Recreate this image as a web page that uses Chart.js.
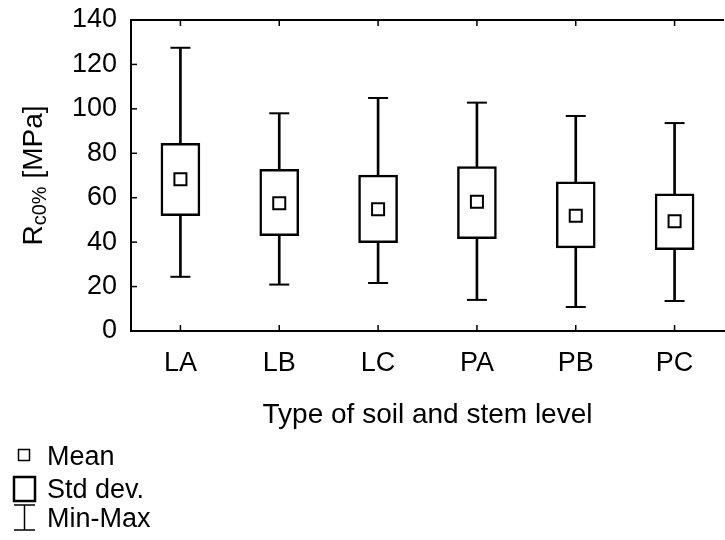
<!DOCTYPE html>
<html>
<head>
<meta charset="utf-8">
<script src="https://cdn.jsdelivr.net/npm/chart.js@4/dist/chart.umd.min.js"></script>
<style>
  html, body { margin: 0; padding: 0; background: #fff; overflow: hidden; }
  #wrap { width: 725px; height: 540px; overflow: hidden; position: relative; }
  canvas { display: block; }
</style>
</head>
<body>
<div id="wrap"><canvas id="c" width="736" height="540"></canvas></div>
<script>
// ---- data ----
const categories = ['LA', 'LB', 'LC', 'PA', 'PB', 'PC'];
const meanValues = [68.3, 57.5, 54.8, 58.2, 51.9, 49.4];
const sdLow      = [51.9, 42.9, 39.8, 41.6, 37.4, 36.6];
const sdHigh     = [84.5, 72.8, 70.2, 74.0, 67.2, 61.8];
const minValues  = [24.4, 20.9, 21.6, 14.0, 10.8, 13.5];
const maxValues  = [127.5, 98.0, 104.9, 102.8, 96.8, 93.6];
const yTicks     = [0, 20, 40, 60, 80, 100, 120, 140];
const xTitle = 'Type of soil and stem level';
const yTitleMain = 'R', yTitleSub = 'c0%', yTitleRest = ' [MPa]';
const legendLabels = ['Mean', 'Std dev.', 'Min-Max'];

const FONT = '"Liberation Sans", Arial, sans-serif';
const BLACK = '#000';

const decorPlugin = {
  id: 'decor',
  afterDraw(chart) {
    const ctx = chart.ctx;
    const ca = chart.chartArea;
    const xs = chart.scales.x, ys = chart.scales.y;
    ctx.save();
    ctx.strokeStyle = BLACK;
    ctx.lineWidth = 2;
    // top frame line
    ctx.beginPath();
    ctx.moveTo(ca.left - 1, ca.top);
    ctx.lineTo(ca.right, ca.top);
    ctx.stroke();
    // inward ticks
    ctx.lineWidth = 1.5;
    const tl = 6;
    categories.forEach((c, i) => {
      const x = xs.getPixelForValue(i);
      ctx.beginPath();
      ctx.moveTo(x, ca.bottom); ctx.lineTo(x, ca.bottom - tl);
      ctx.moveTo(x, ca.top); ctx.lineTo(x, ca.top + tl);
      ctx.stroke();
    });
    yTicks.forEach(v => {
      const y = ys.getPixelForValue(v);
      ctx.beginPath();
      ctx.moveTo(ca.left, y); ctx.lineTo(ca.left + tl, y);
      ctx.stroke();
    });
    // axis titles
    ctx.fillStyle = BLACK;
    ctx.textBaseline = 'alphabetic';
    ctx.font = '28px ' + FONT;
    ctx.textAlign = 'center';
    ctx.fillText(xTitle, (ca.left + ca.right) / 2, 423);
    // y title rotated with subscript
    const cy = (ca.top + ca.bottom) / 2;
    ctx.save();
    ctx.translate(42, cy);
    ctx.rotate(-Math.PI / 2);
    ctx.textAlign = 'left';
    ctx.font = '28px ' + FONT;
    const wR = ctx.measureText(yTitleMain).width;
    const wRest = ctx.measureText(yTitleRest).width;
    ctx.font = '20px ' + FONT;
    const wSub = ctx.measureText(yTitleSub).width;
    let x0 = -(wR + wSub + wRest) / 2;
    ctx.font = '28px ' + FONT;
    ctx.fillText(yTitleMain, x0, 0);
    ctx.font = '20px ' + FONT;
    ctx.fillText(yTitleSub, x0 + wR, 4);
    ctx.font = '28px ' + FONT;
    ctx.fillText(yTitleRest, x0 + wR + wSub, 0);
    ctx.restore();
    // legend
    ctx.font = '27px ' + FONT;
    ctx.textAlign = 'left';
    ctx.lineWidth = 1.5;
    ctx.strokeRect(18.5, 449.5, 11, 11);
    ctx.fillText(legendLabels[0], 47, 465);
    ctx.lineWidth = 2.5;
    ctx.strokeRect(14, 477, 21, 24);
    ctx.fillText(legendLabels[1], 47, 498);
    ctx.lineWidth = 1.5;
    ctx.beginPath();
    ctx.moveTo(24.5, 505); ctx.lineTo(24.5, 530);
    ctx.moveTo(14, 505); ctx.lineTo(35, 505);
    ctx.moveTo(14, 530); ctx.lineTo(35, 530);
    ctx.stroke();
    ctx.fillText(legendLabels[2], 47, 527);
    ctx.restore();
  }
};

new Chart(document.getElementById('c'), {
  data: {
    labels: categories,
    datasets: [
      { type: 'bar', data: categories.map((c, i) => [minValues[i], maxValues[i]]),
        backgroundColor: BLACK, borderWidth: 0, barThickness: 2, grouped: false, order: 3 },
      { type: 'bar', data: categories.map((c, i) => [sdLow[i], sdHigh[i]]),
        backgroundColor: '#fff', borderColor: BLACK, borderWidth: 2.5, borderSkipped: false,
        barThickness: 39, grouped: false, order: 2 },
      { type: 'line', data: maxValues, showLine: false, pointStyle: 'line', pointRadius: 10,
        pointBorderWidth: 2, borderColor: BLACK, order: 1 },
      { type: 'line', data: minValues, showLine: false, pointStyle: 'line', pointRadius: 10,
        pointBorderWidth: 2, borderColor: BLACK, order: 1 },
      { type: 'line', data: meanValues, showLine: false, pointStyle: 'rect', pointRadius: 8.5,
        pointBorderWidth: 2, borderColor: BLACK, backgroundColor: '#fff', pointBackgroundColor: '#fff', order: 0 }
    ]
  },
  options: {
    responsive: false,
    animation: false,
    events: [],
    layout: { padding: { top: 20, right: 2, left: 0, bottom: 0 } },
    plugins: { legend: { display: false }, tooltip: { enabled: false } },
    scales: {
      x: {
        type: 'category', offset: true,
        grid: { display: false, drawTicks: false },
        border: { display: true, color: BLACK, width: 2 },
        ticks: { color: BLACK, font: { family: FONT, size: 27 }, padding: 16 },
        afterFit(s) { s.height = 209; s.paddingLeft = 0; s.paddingRight = 0; }
      },
      y: {
        min: 0, max: 140,
        grid: { display: false, drawTicks: false },
        border: { display: true, color: BLACK, width: 2 },
        ticks: { stepSize: 20, color: BLACK, font: { family: FONT, size: 27 }, padding: 14 },
        afterFit(s) { s.width = 131; s.paddingTop = 0; s.paddingBottom = 0; }
      }
    }
  },
  plugins: [decorPlugin]
});
</script>
</body>
</html>
